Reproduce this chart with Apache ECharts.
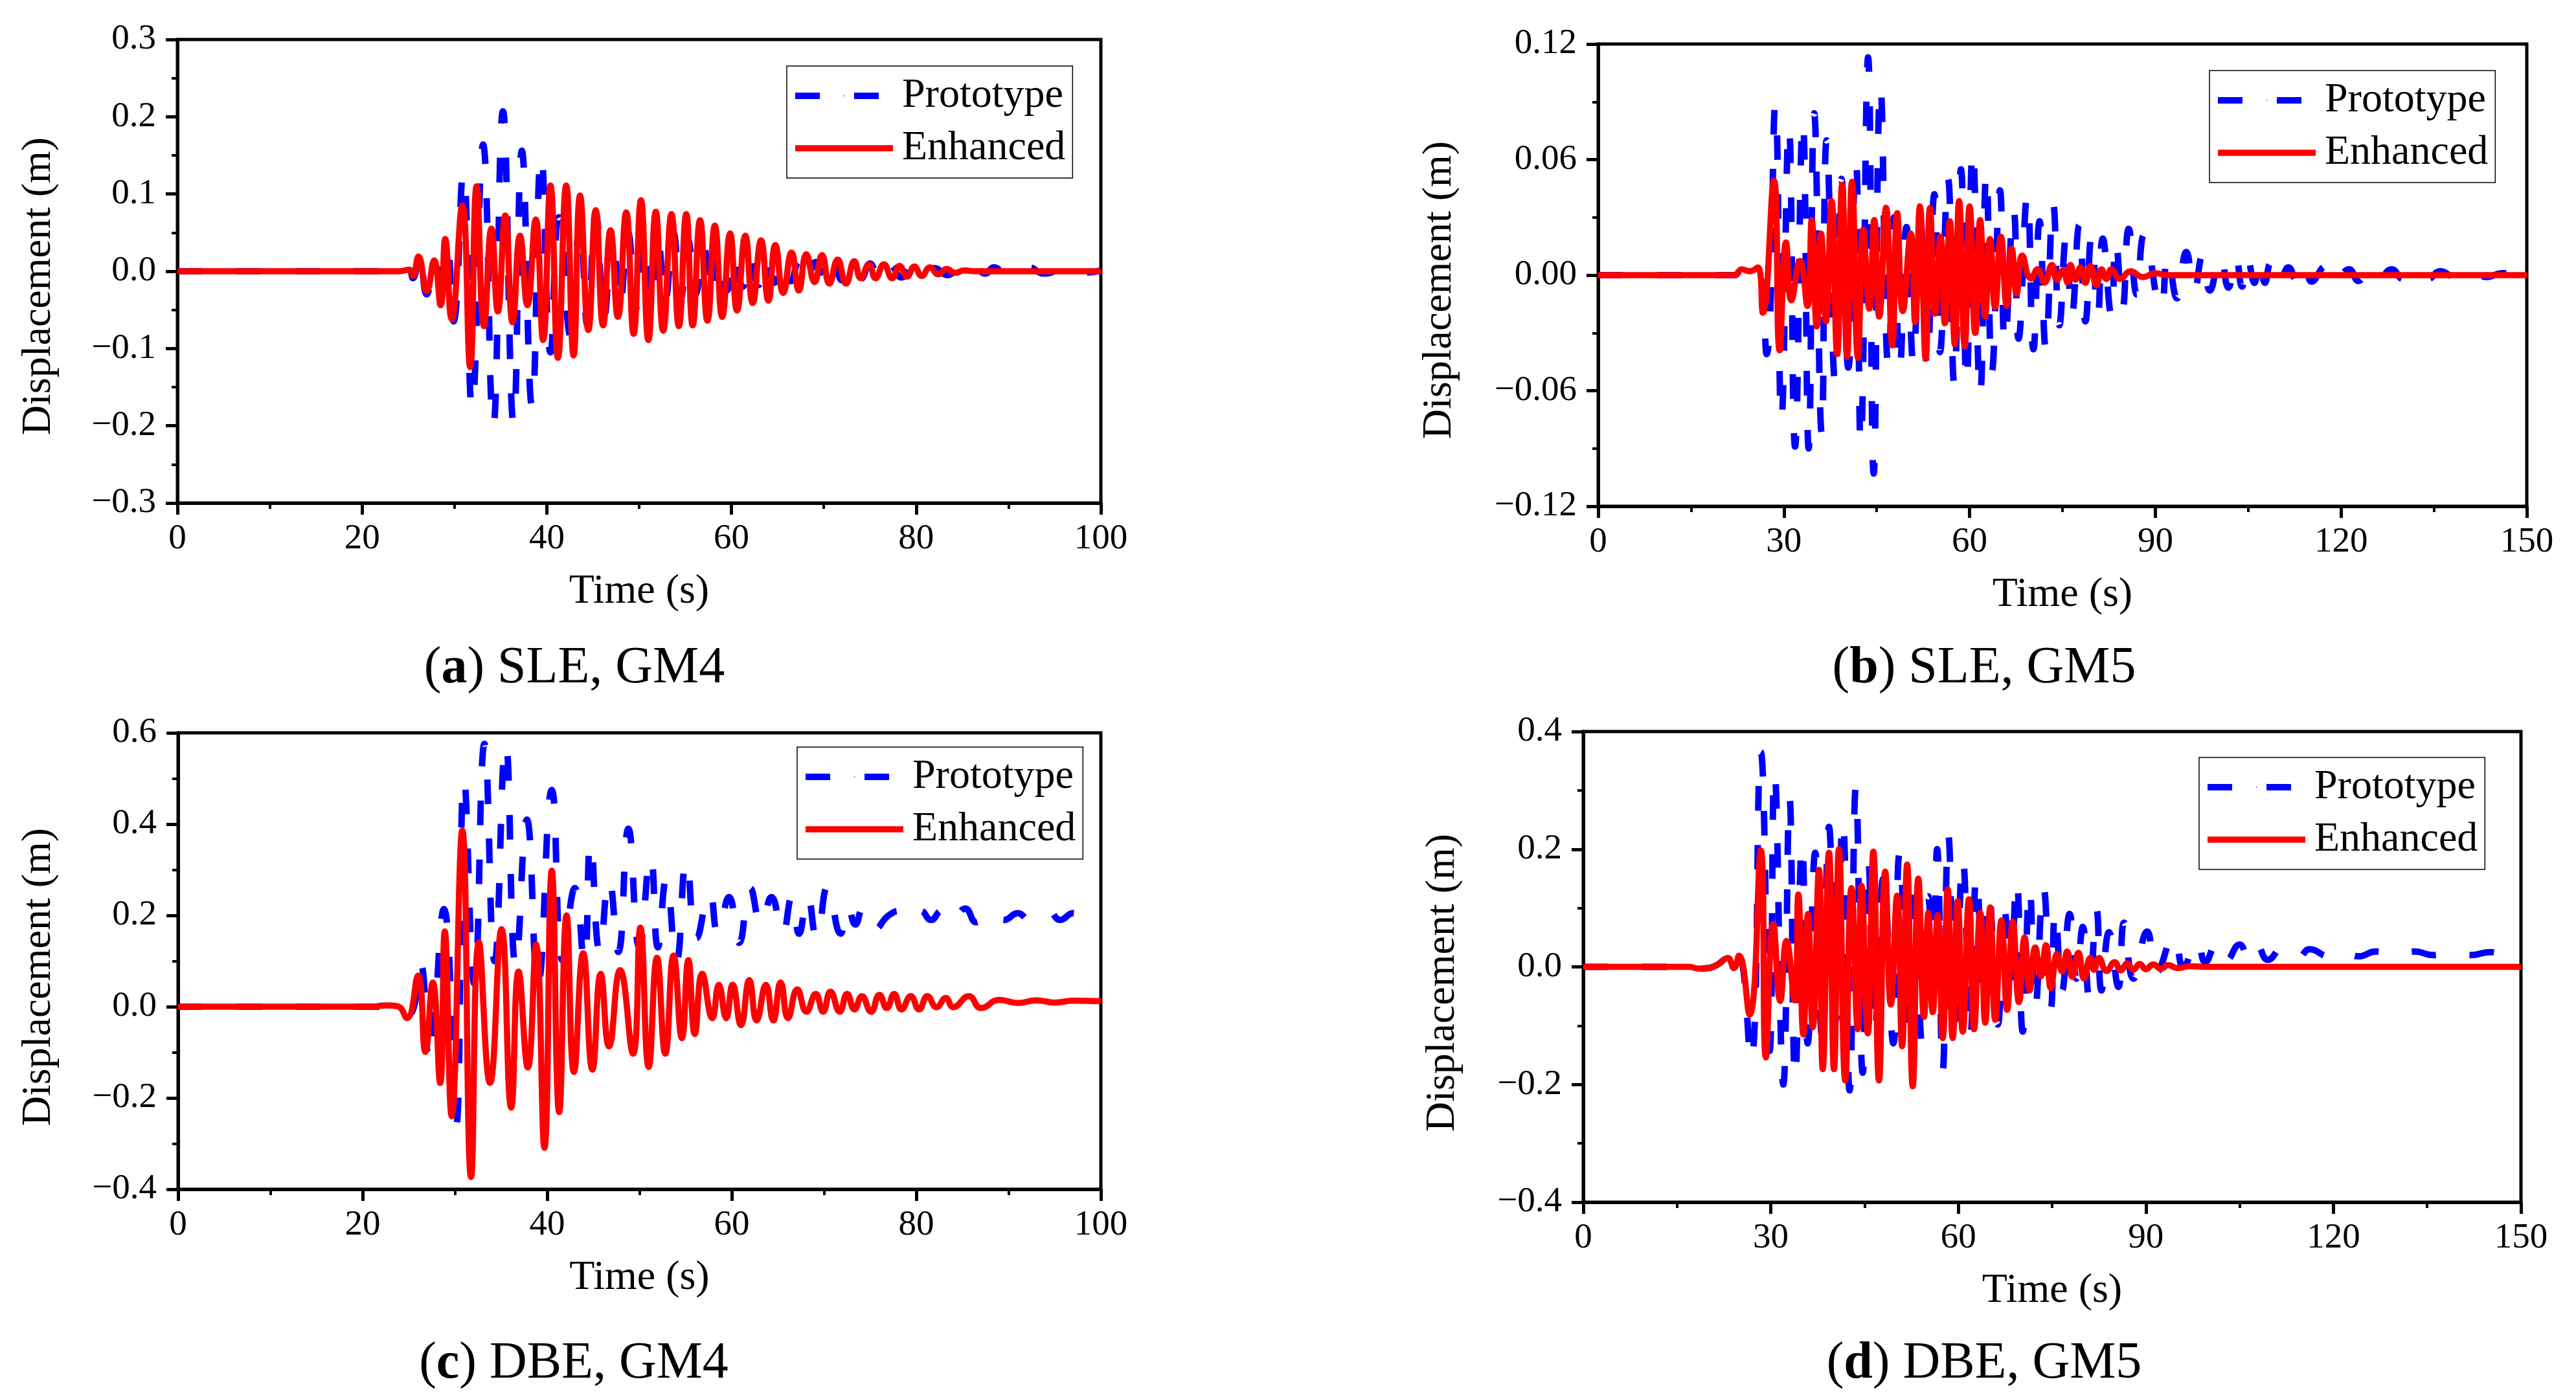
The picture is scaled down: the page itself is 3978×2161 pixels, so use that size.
<!DOCTYPE html>
<html>
<head>
<meta charset="utf-8">
<title>Displacement time histories</title>
<script src="https://cdn.jsdelivr.net/npm/echarts@6/dist/echarts.min.js"></script>
<style>
  html, body { margin: 0; padding: 0; background: #fff; }
  #chart { width: 3978px; height: 2161px; }
</style>
</head>
<body>
<div id="chart"></div>
<script>
// values: [time (s), displacement (m)] at the peaks and troughs
const protoA = [[0,0],[24,0],[25.0,0.003],[25.5,-0.009],[26.2,0.025],[27.0,-0.030],[27.9,0.012],[28.6,-0.040],[29.2,0.040],[29.9,-0.065],[30.95,0.128],[31.9,-0.177],[33.1,0.164],[34.2,-0.200],[35.25,0.207],[36.4,-0.196],[37.3,0.156],[38.4,-0.175],[39.4,0.150],[40.4,-0.105],[41.3,0.070],[42.6,-0.085],[43.6,0.065],[44.4,-0.070],[45.3,0.075],[46.2,-0.060],[47.1,0.055],[47.9,-0.045],[48.8,0.050],[49.6,-0.050],[50.4,0.040],[51.2,-0.040],[52.0,0.045],[52.8,-0.040],[53.7,0.050],[54.5,-0.035],[55.3,0.040],[56.1,-0.030],[57.0,0.030],[57.8,-0.030],[58.7,0.025],[59.5,-0.025],[60.4,0.020],[61.2,-0.020],[62.1,0.018],[62.9,-0.018],[63.8,0.015],[64.6,-0.015],[65.5,0.013],[66.4,-0.013],[67.3,0.012],[68.2,-0.012],[69.1,0.012],[70.0,-0.012],[71.0,0.015],[72.0,-0.012],[73.0,0.010],[74.0,-0.010],[75.0,0.010],[76.0,-0.010],[77.2,0.008],[78.4,-0.008],[79.6,0.007],[80.8,-0.006],[82.0,0.004],[83.4,-0.005],[84.7,0.003],[85.4,-0.005],[86.2,0.006],[87.5,-0.003],[88.4,0.005],[89.8,-0.003],[92.2,0.005],[93.8,-0.003],[96.3,0.004],[98.0,-0.002],[100,0.001]];
const enhancedA = [[0,0],[24,0],[25.1,0.002],[25.5,-0.006],[26.1,0.019],[27.0,-0.026],[27.8,0.014],[28.5,-0.044],[29.0,0.042],[29.7,-0.062],[30.85,0.085],[31.7,-0.124],[32.4,0.110],[33.2,-0.071],[34.0,0.055],[34.7,-0.052],[35.5,0.072],[36.3,-0.066],[37.1,0.046],[37.9,-0.044],[38.8,0.067],[39.6,-0.089],[40.4,0.111],[41.2,-0.112],[42.1,0.111],[42.9,-0.109],[43.6,0.098],[44.5,-0.076],[45.3,0.079],[46.1,-0.070],[46.9,0.053],[47.7,-0.059],[48.6,0.076],[49.4,-0.081],[50.2,0.092],[51.0,-0.089],[51.8,0.077],[52.6,-0.077],[53.5,0.074],[54.3,-0.071],[55.1,0.074],[55.8,-0.070],[56.6,0.066],[57.4,-0.064],[58.2,0.059],[59.0,-0.059],[59.85,0.049],[60.6,-0.051],[61.5,0.046],[62.3,-0.041],[63.2,0.040],[64.0,-0.038],[64.75,0.034],[65.6,-0.028],[66.5,0.024],[67.3,-0.025],[68.1,0.022],[69.0,-0.014],[69.8,0.021],[70.6,-0.016],[71.5,0.015],[72.4,-0.016],[73.3,0.013],[74.0,-0.009],[74.9,0.009],[75.6,-0.009],[76.5,0.009],[77.4,-0.009],[78.2,0.007],[79.0,-0.007],[79.8,0.006],[80.6,-0.006],[81.5,0.005],[82.4,-0.004],[83.3,0.003],[84.2,-0.002],[85.2,0.001],[86.5,0],[100,0]];

const protoB = [[0,0],[22,0],[23.2,0.003],[24.5,0.002],[25.8,0.004],[27.2,-0.041],[28.6,0.088],[29.6,-0.075],[30.8,0.077],[31.8,-0.089],[33.05,0.080],[34.0,-0.090],[34.9,0.084],[36.1,-0.082],[36.9,0.070],[38.3,-0.056],[39.3,0.050],[40.4,-0.048],[41.6,0.061],[42.4,-0.087],[43.6,0.113],[44.5,-0.103],[45.6,0.098],[46.9,-0.049],[47.8,0.030],[48.7,-0.049],[49.8,0.025],[50.9,-0.045],[52.0,0.030],[53.1,-0.046],[54.3,0.042],[55.2,-0.040],[56.5,0.050],[57.5,-0.056],[58.6,0.055],[59.5,-0.056],[60.5,0.065],[61.7,-0.062],[62.7,0.053],[63.6,-0.050],[64.9,0.044],[65.7,-0.035],[67.1,0.034],[67.9,-0.033],[69.3,0.041],[70.3,-0.0385],[71.3,0.028],[72.3,-0.038],[73.5,0.037],[74.5,-0.026],[75.6,0.020],[76.5,-0.021],[77.7,0.026],[78.7,-0.024],[79.7,0.020],[80.7,-0.021],[81.5,0.019],[82.9,-0.021],[83.6,0.018],[84.7,-0.017],[85.7,0.024],[87.0,-0.010],[88.2,0.021],[90.9,-0.017],[92.0,0.010],[93.5,-0.012],[95.0,0.012],[96.3,-0.0075],[97.6,0.010],[98.8,-0.008],[100.5,0.0105],[101.8,-0.0065],[103.0,0.009],[104.0,-0.006],[104.9,0.0087],[106.0,-0.004],[106.8,0.0075],[107.7,-0.004],[108.6,0.006],[110.0,-0.005],[111.5,0.004],[113.0,-0.004],[114.3,0.004],[115.2,-0.0034],[117.5,0.0045],[119.0,-0.003],[121.3,0.003],[122.8,-0.003],[124.5,0.003],[126.0,-0.002],[128.2,0.003],[130.0,-0.002],[132.0,0.002],[134.0,-0.002],[136.0,0.002],[138.5,-0.001],[141.0,0.002],[143.5,-0.001],[146.0,0.001],[150,0]];
const enhancedB = [[0,0],[22,0],[23.2,0.003],[24.5,0.002],[25.8,0.004],[26.6,-0.0195],[28.4,0.049],[29.3,-0.039],[30.35,0.017],[31.2,-0.013],[32.6,0.0074],[33.8,-0.016],[34.5,0.0286],[35.3,-0.0266],[36.0,0.0215],[36.8,-0.024],[37.7,0.0385],[38.6,-0.041],[39.4,0.047],[40.2,-0.0425],[41.0,0.0485],[41.96,-0.043],[42.8,0.0237],[43.8,-0.0174],[44.6,0.0286],[45.4,-0.0215],[46.5,0.035],[47.5,-0.0365],[48.3,0.0322],[49.2,-0.0186],[50.5,0.0215],[51.2,-0.0243],[51.97,0.0357],[52.9,-0.0435],[53.6,0.035],[54.4,-0.020],[55.3,0.020],[56.0,-0.025],[56.8,0.028],[57.6,-0.036],[58.3,0.0385],[59.2,-0.037],[60.0,0.0357],[60.9,-0.030],[61.7,0.0286],[62.5,-0.0215],[63.3,0.0187],[64.1,-0.0167],[65.05,0.020],[66.0,-0.016],[66.8,0.0138],[67.6,-0.0096],[68.5,0.0102],[69.9,-0.0018],[71.0,0.0031],[72.1,-0.0039],[73.3,0.0053],[74.1,-0.0024],[75.1,0.0025],[75.8,-0.0039],[76.3,0.0053],[77.1,-0.0024],[77.9,0.004],[78.7,-0.004],[79.5,0.0048],[80.5,-0.0053],[81.3,0.003],[82.1,-0.002],[82.9,0.003],[84.3,-0.002],[86,0.002],[88,-0.001],[90,0.001],[92,0],[150,0]];

const protoC = [[0,0],[22,0],[24.8,-0.020],[26.2,0.097],[27.2,-0.118],[28.8,0.214],[30.1,-0.265],[31.0,0.498],[32.1,0.050],[33.2,0.576],[34.3,0.100],[35.5,0.576],[36.6,0.090],[37.8,0.410],[39.0,0.050],[40.5,0.475],[41.7,0.100],[43.0,0.260],[44.0,0.100],[44.7,0.360],[45.7,0.120],[46.7,0.280],[47.7,0.120],[48.8,0.390],[50.0,0.130],[51.2,0.330],[52.0,0.130],[52.9,0.280],[54.0,0.100],[55.1,0.320],[56.2,0.150],[57.6,0.250],[58.5,0.160],[59.7,0.240],[60.8,0.140],[62.0,0.260],[63.2,0.180],[64.3,0.240],[65.5,0.160],[66.5,0.240],[67.3,0.160],[68.2,0.244],[69.2,0.150],[70.4,0.264],[71.8,0.160],[72.6,0.220],[73.4,0.180],[74.2,0.215],[75.5,0.170],[77.0,0.200],[78.3,0.210],[79.5,0.190],[80.5,0.210],[81.6,0.190],[82.7,0.210],[83.7,0.185],[85.3,0.215],[86.5,0.185],[88.0,0.210],[89.5,0.190],[91.0,0.205],[92.3,0.190],[94.3,0.210],[95.6,0.190],[97.0,0.205],[98.3,0.190],[100,0.210]];
const enhancedC = [[0,0],[21,0],[22.5,0.003],[23.8,0.001],[24.8,-0.025],[26.0,0.068],[26.8,-0.099],[27.6,0.053],[28.4,-0.167],[28.9,0.165],[29.65,-0.240],[30.8,0.386],[31.75,-0.373],[32.6,0.141],[33.8,-0.167],[35.05,0.170],[36.1,-0.221],[36.9,0.077],[37.9,-0.133],[38.8,0.136],[39.7,-0.309],[40.5,0.298],[41.3,-0.231],[42.1,0.200],[42.9,-0.143],[43.9,0.117],[44.9,-0.138],[45.8,0.072],[46.7,-0.087],[47.9,0.080],[49.3,-0.103],[50.1,0.173],[51.0,-0.132],[51.9,0.107],[52.8,-0.103],[53.7,0.112],[54.6,-0.069],[55.3,0.102],[56.0,-0.060],[56.8,0.072],[57.9,-0.025],[58.6,0.048],[59.4,-0.025],[60.1,0.048],[61.0,-0.040],[61.9,0.058],[62.7,-0.030],[63.7,0.048],[64.5,-0.030],[65.3,0.053],[66.1,-0.025],[67.1,0.038],[68.1,-0.011],[69.1,0.028],[69.9,-0.011],[70.7,0.033],[71.7,-0.011],[72.5,0.028],[73.3,-0.006],[74.1,0.023],[75.1,-0.011],[76.0,0.026],[76.8,-0.003],[77.6,0.028],[78.4,-0.006],[79.4,0.023],[80.3,-0.006],[81.2,0.023],[82.2,-0.001],[83.2,0.019],[84.0,-0.001],[85.7,0.023],[87.0,-0.003],[89.0,0.015],[91.0,0.008],[93.0,0.014],[95.0,0.009],[97.0,0.013],[100,0.012]];

const protoD = [[0,0],[17,0],[18.5,-0.003],[20,-0.002],[21.5,0.004],[23.1,0.015],[24.1,0.0],[24.9,0.020],[26.8,-0.160],[28.4,0.365],[29.8,-0.143],[30.6,0.330],[32.0,-0.200],[33.0,0.286],[33.9,-0.190],[35.0,0.209],[35.9,-0.130],[37.1,0.194],[38.2,-0.120],[39.3,0.238],[40.4,-0.090],[41.5,0.249],[42.6,-0.210],[43.6,0.305],[44.7,-0.180],[45.6,0.180],[46.6,-0.110],[48.0,0.150],[49.6,-0.130],[50.6,0.193],[52.0,-0.090],[53.0,0.150],[54.2,-0.130],[55.2,0.120],[55.9,-0.050],[56.6,0.200],[57.5,-0.176],[58.4,0.224],[59.5,-0.090],[60.7,0.183],[61.9,-0.120],[62.9,0.154],[64.1,-0.070],[64.9,0.123],[66.3,-0.098],[67.4,0.095],[68.3,-0.020],[69.3,0.147],[70.3,-0.110],[71.4,0.134],[72.3,-0.070],[73.6,0.136],[74.8,-0.070],[75.5,0.095],[76.6,-0.040],[77.8,0.090],[78.9,-0.020],[79.9,0.068],[80.9,-0.050],[82.1,0.097],[82.9,-0.040],[84.1,0.059],[85.6,-0.034],[86.5,0.075],[88.0,-0.020],[90.2,0.060],[91.7,-0.009],[94.5,0.053],[96.0,0.000],[98.2,0.045],[99.5,0.008],[101.3,0.039],[102.8,0.010],[105.0,0.038],[106.5,0.012],[107.8,0.036],[109.5,0.012],[112.0,0.034],[114.4,0.016],[116.2,0.030],[119.3,0.018],[121.2,0.028],[124.0,0.018],[126.8,0.026],[130.0,0.019],[133.0,0.026],[136.0,0.020],[139.0,0.025],[142.0,0.020],[145.0,0.025],[148.0,0.020],[150,0.024]];
const enhancedD = [[0,0],[17,0],[18.5,-0.003],[20,-0.002],[21.5,0.004],[23.1,0.015],[24.1,-0.002],[24.9,0.019],[26.6,-0.081],[28.4,0.198],[29.2,-0.154],[30.4,0.073],[31.5,-0.058],[32.5,0.044],[33.8,-0.057],[34.4,0.123],[35.2,-0.115],[35.95,0.090],[36.7,-0.103],[37.7,0.165],[38.3,-0.174],[39.3,0.194],[40.1,-0.174],[40.9,0.200],[41.9,-0.193],[42.9,0.134],[43.9,-0.106],[44.5,0.138],[45.5,-0.113],[46.4,0.196],[47.3,-0.193],[48.3,0.162],[49.2,-0.064],[50.2,0.121],[51.0,-0.135],[51.8,0.174],[52.7,-0.203],[53.6,0.150],[54.5,-0.085],[55.2,0.092],[55.9,-0.077],[56.7,0.088],[57.5,-0.121],[58.3,0.132],[59.1,-0.121],[59.9,0.112],[60.7,-0.110],[61.7,0.115],[62.5,-0.106],[63.5,0.092],[64.3,-0.095],[65.1,0.101],[65.9,-0.090],[66.9,0.079],[67.8,-0.073],[68.7,0.077],[69.7,-0.060],[70.6,0.050],[71.4,-0.040],[72.3,0.033],[73.2,-0.016],[74.0,0.037],[74.8,-0.036],[75.8,0.022],[76.6,-0.008],[77.4,0.026],[78.2,-0.017],[79.2,0.024],[80.1,-0.020],[81.1,0.015],[81.7,-0.005],[82.5,0.015],[83.7,-0.007],[85.0,0.008],[86.0,-0.006],[87.0,0.006],[88.0,-0.005],[89.0,0.005],[90.0,-0.004],[91.2,0.004],[92.4,-0.003],[93.6,0.003],[95.0,-0.002],[97.0,0.001],[100,0],[150,0]];

const seriesNames = ['Prototype', 'Enhanced'];
const captionTags = ['a', 'b', 'c', 'd'];
const captionTexts = [' SLE, GM4', ' SLE, GM5', ' DBE, GM4', ' DBE, GM5'];
const yTitle = 'Displacement (m)';

const SERIF = 'Liberation Serif';

const panels = [
  { proto: protoA, enh: enhancedA, xMax: 100, xStep: 20, yMin: -0.3, yMax: 0.3, yStep: 0.1, digits: 1,
    grid: { left: 274, top: 61, width: 1426, height: 716 }, yName: [60, 442],
    legend: { left: 1215, top: 102 }, cap: [887, 1033] },
  { proto: protoB, enh: enhancedB, xMax: 150, xStep: 30, yMin: -0.12, yMax: 0.12, yStep: 0.06, digits: 2,
    grid: { left: 2468, top: 68, width: 1434, height: 714 }, yName: [2223, 448],
    legend: { left: 3412, top: 109 }, cap: [3064, 1033] },
  { proto: protoC, enh: enhancedC, xMax: 100, xStep: 20, yMin: -0.4, yMax: 0.6, yStep: 0.2, digits: 1,
    grid: { left: 275, top: 1132, width: 1425, height: 705 }, yName: [60, 1509],
    legend: { left: 1231, top: 1154 }, cap: [886, 2107] },
  { proto: protoD, enh: enhancedD, xMax: 150, xStep: 30, yMin: -0.4, yMax: 0.4, yStep: 0.2, digits: 1,
    grid: { left: 2445, top: 1130, width: 1448, height: 727 }, yName: [2228, 1518],
    legend: { left: 3396, top: 1170 }, cap: [3064, 2107] }
];

const blackLine = (w) => ({ color: '#000', width: w });

const option = {
  animation: false,
  backgroundColor: '#fff',
  grid: [], xAxis: [], yAxis: [], series: [], legend: [], graphic: []
};

panels.forEach((p, i) => {
  option.grid.push(Object.assign({
    show: true, borderColor: '#000', borderWidth: 5, backgroundColor: 'transparent'
  }, p.grid));

  option.xAxis.push({
    type: 'value', gridIndex: i, min: 0, max: p.xMax, interval: p.xStep,
    name: 'Time (s)', nameLocation: 'middle', nameGap: 105,
    nameTextStyle: { fontFamily: SERIF, fontSize: 64, color: '#000' },
    axisLine: { onZero: false, lineStyle: blackLine(5) },
    axisTick: { length: 18, lineStyle: blackLine(5) },
    minorTick: { show: true, splitNumber: 2, length: 9, lineStyle: blackLine(4) },
    axisLabel: { margin: 28, fontFamily: SERIF, fontSize: 55, color: '#000' },
    splitLine: { show: false }
  });

  option.yAxis.push({
    type: 'value', gridIndex: i, min: p.yMin, max: p.yMax, interval: p.yStep,
    axisLine: { onZero: false, lineStyle: blackLine(5) },
    axisTick: { length: 18, lineStyle: blackLine(5) },
    minorTick: { show: true, splitNumber: 2, length: 9, lineStyle: blackLine(4) },
    axisLabel: {
      margin: 33, fontFamily: SERIF, fontSize: 55, color: '#000',
      formatter: (v) => (Math.abs(v) < 1e-9 ? 0 : v).toFixed(p.digits).replace('-', '\u2212')
    },
    splitLine: { show: false }
  });

  option.series.push({
    name: seriesNames[0], type: 'line', xAxisIndex: i, yAxisIndex: i, data: p.proto,
    symbol: 'none', smooth: 0.5, silent: true, z: 2,
    lineStyle: { color: '#0000ff', width: 10, type: [38, 53], cap: 'butt' },
    itemStyle: { color: '#0000ff' }
  });
  option.series.push({
    name: seriesNames[1], type: 'line', xAxisIndex: i, yAxisIndex: i, data: p.enh,
    symbol: 'none', smooth: 0.5, silent: true, z: 3,
    lineStyle: { color: '#ff0000', width: 9.5 },
    itemStyle: { color: '#ff0000' }
  });

  option.legend.push({
    orient: 'vertical', left: p.legend.left, top: p.legend.top,
    data: seriesNames, selectedMode: false,
    itemWidth: 151, itemHeight: 2, itemGap: 11,
    padding: [11, 11, 11, 8],
    borderColor: '#000', borderWidth: 1.5, backgroundColor: '#fff',
    lineStyle: { width: 'inherit', type: 'inherit', cap: 'butt' },
    textStyle: { fontFamily: SERIF, fontSize: 64, color: '#000', lineHeight: 70, padding: [0, 0, 0, 9] }
  });

  // y title sits a little below the middle of the axis in the figure, so it is placed directly
  option.graphic.push({
    type: 'text', x: p.yName[0], y: p.yName[1], rotation: Math.PI / 2, silent: true,
    style: {
      text: yTitle, fontFamily: SERIF, fontSize: 64, fill: '#000',
      align: 'center', verticalAlign: 'middle'
    }
  });

  option.graphic.push({
    type: 'text', x: p.cap[0], y: p.cap[1], silent: true,
    style: {
      text: '({b|' + captionTags[i] + '})' + captionTexts[i],
      fontFamily: SERIF, fontSize: 80, fill: '#000',
      align: 'center', verticalAlign: 'middle',
      rich: { b: { fontFamily: SERIF, fontSize: 80, fontWeight: 'bold', fill: '#000' } }
    }
  });
});

const chart = echarts.init(document.getElementById('chart'), null, { renderer: 'canvas' });
chart.setOption(option);
window.addEventListener('resize', () => chart.resize());
</script>
</body>
</html>
